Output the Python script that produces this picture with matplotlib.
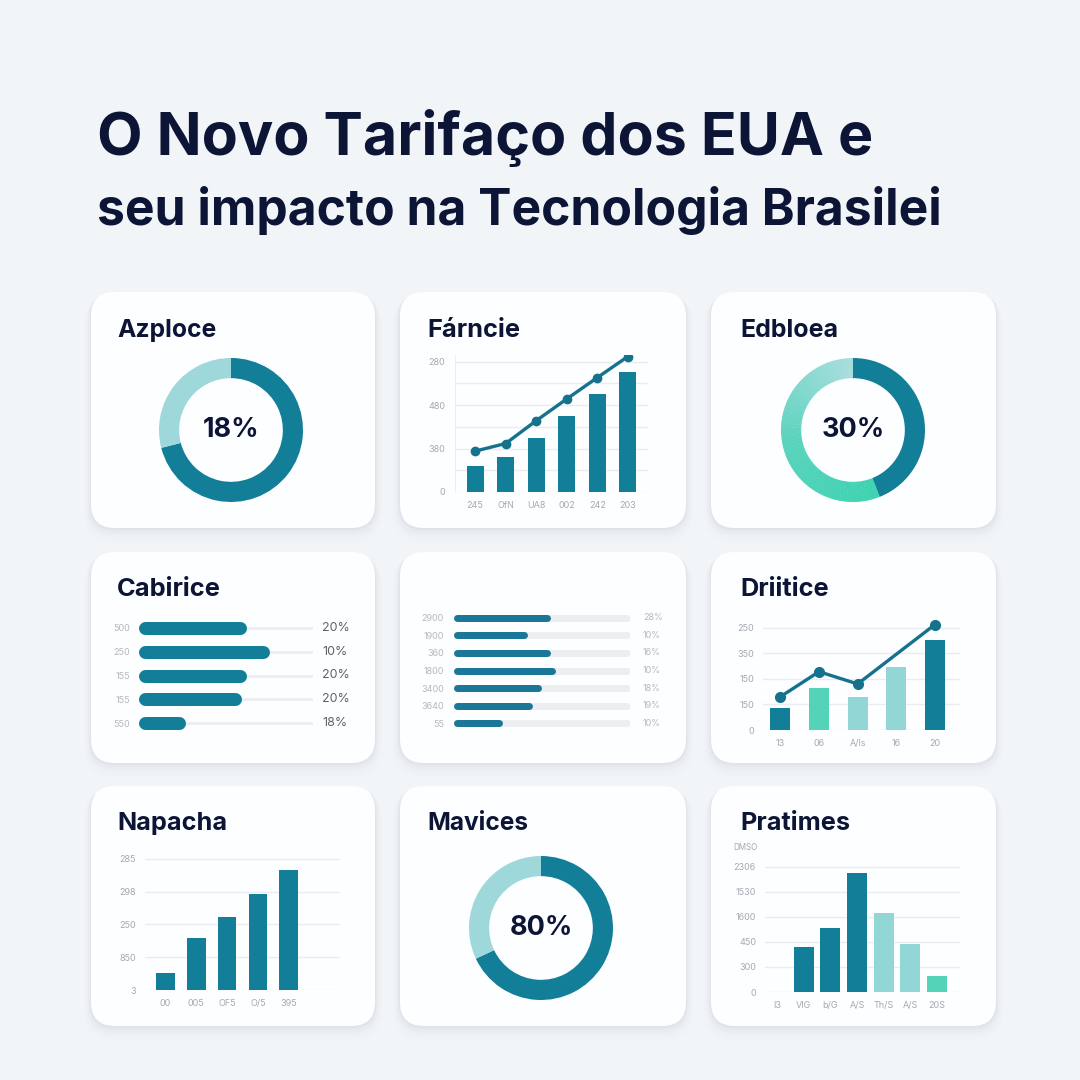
import numpy as np
import matplotlib
matplotlib.use("Agg")
import matplotlib.pyplot as plt
import matplotlib.colors as mcolors
from matplotlib.patches import FancyBboxPatch, Wedge

plt.rcParams["font.family"] = ["Inter", "DejaVu Sans"]

# ---------------------------------------------------------------- data
title_lines = ["O Novo Tarifaço dos EUA e", "seu impacto na Tecnologia Brasilei"]

azploce_title = "Azploce"
azploce_label = "18%"
azploce_parts = [71, 29]

farncie_title = "Fárncie"
farncie_cats = ["245", "OfN", "UA8", "002", "242", "203"]
farncie_bars = [120, 162, 249, 351, 452, 554]
farncie_line = [188, 223, 328, 428, 526, 623]
farncie_yticks = [0, 200, 400, 600]
farncie_ylabels = ["0", "380", "480", "280"]

edbloea_title = "Edbloea"
edbloea_label = "30%"
edbloea_parts = [44, 56]

cabirice_title = "Cabirice"
cabirice_left = ["500", "250", "155", "155", "550"]
cabirice_right = ["20%", "10%", "20%", "20%", "18%"]
cabirice_vals = [62, 75, 62, 59, 27]

mid_left = ["2900", "1900", "360", "1800", "3400", "3640", "55"]
mid_right = ["28%", "10%", "16%", "10%", "18%", "19%", "10%"]
mid_vals = [55, 42, 55, 58, 50, 45, 28]

driitice_title = "Driitice"
driitice_cats = ["13", "06", "A/ls", "16", "20"]
driitice_bars = [43, 82, 65, 124, 176]
driitice_line_idx = [0, 1, 2, 4]
driitice_line = [65, 114, 90, 206]
driitice_yticks = [0, 50, 100, 150, 200]
driitice_ylabels = ["0", "150", "150", "350", "250"]

napacha_title = "Napacha"
napacha_cats = ["00", "005", "OF5", "O/5", "395"]
napacha_bars = [26, 79, 111, 147, 183]
napacha_yticks = [0, 50, 100, 150, 200]
napacha_ylabels = ["3", "850", "250", "298", "285"]

mavices_title = "Mavices"
mavices_label = "80%"
mavices_parts = [68, 32]

pratimes_title = "Pratimes"
pratimes_cats = ["I3", "VIG", "b/G", "A/S", "Th/S", "A/S", "20S"]
pratimes_bars = [0, 90, 128, 238, 158, 96, 32]
pratimes_yticks = [0, 50, 100, 150, 200, 250]
pratimes_ylabels = ["0", "300", "450", "1600", "1530", "2306"]
pratimes_unit = "DMSO"

# ---------------------------------------------------------------- style
BG = "#f2f5f8"
NAVY = "#0c1535"
DARK = "#127e98"
LIGHT = "#9ed8db"
MINT = "#55d3b8"
PALE = "#93d6d6"
GRID = "#e9ecf0"
TICK = "#a3aab3"

W = H = 1080
fig = plt.figure(figsize=(10.8, 10.8), dpi=100)
fig.patch.set_facecolor(BG)
PT = 72 / 100  # points per pixel
renderer = fig.canvas.get_renderer()


def box(x, y, w, h):
    # pixel box (top-left origin) -> figure fraction
    return [x / W, 1 - (y + h) / H, w / W, h / H]


def card(x0, y0, x1, y1):
    r = 24
    for k, a in [(14, 0.02), (10, 0.025), (7, 0.035), (4, 0.045), (2, 0.055)]:
        sh = FancyBboxPatch((x0 / W - k / W * 0.5, 1 - (y1 + k) / H),
                            (x1 - x0 + k) / W, (y1 - y0 + k * 0.8) / H,
                            boxstyle="round,pad=0,rounding_size=%f" % ((r + k * 0.5) / W),
                            transform=fig.transFigure, fc="#8d9bb0", ec="none",
                            alpha=a, zorder=-3)
        fig.patches.append(sh)
    p = FancyBboxPatch((x0 / W, 1 - y1 / H), (x1 - x0) / W, (y1 - y0) / H,
                       boxstyle="round,pad=0,rounding_size=%f" % (r / W),
                       transform=fig.transFigure, fc="#fdfeff", ec="none", zorder=-2)
    fig.patches.append(p)


def fit_text(x, y, s, width, size, **kw):
    # place text, then rescale font so it spans the reference width
    t = fig.text(x / W, 1 - y / H, s, fontsize=size * PT, va="baseline", ha="left", **kw)
    w = t.get_window_extent(renderer).width
    t.set_fontsize(size * PT * width / w)
    return t


def card_title(x, y, s, width):
    fit_text(x, y, s, width, 22, fontweight="bold", color=NAVY)


cols = [(91, 375), (400, 686), (711, 996)]
rows = [(292, 528), (552, 763), (786, 1026)]
for (ya, yb) in rows:
    for (xa, xb) in cols:
        card(xa, ya, xb, yb)

# title
fit_text(97, 155, title_lines[0], 776, 60, fontweight="bold", color=NAVY)
fit_text(97, 225, title_lines[1], 845, 60, fontweight="bold", color=NAVY)


def donut(cx, cy, R, parts, label, gradient=False):
    ax = fig.add_axes(box(cx - R, cy - R, 2 * R, 2 * R))
    ax.set_axis_off()
    wedges, _ = ax.pie(parts, colors=[DARK, LIGHT], startangle=90, counterclock=False,
                       radius=1, wedgeprops=dict(width=0.28, linewidth=0))
    if gradient:
        w = wedges[1]
        t1, t2 = w.theta1, w.theta2
        n = 60
        cmap = mcolors.LinearSegmentedColormap.from_list("g", ["#a9dddd", "#5ad3bd", "#3fd3b2"])
        edges = np.linspace(t1, t2, n + 1)
        for i in range(n):
            ax.add_patch(Wedge((0, 0), 1, edges[i], edges[i + 1] + 0.4, width=0.28,
                               fc=cmap(i / (n - 1)), ec="none"))
        w.set_visible(False)
    ax.set_xlim(-1, 1)
    ax.set_ylim(-1, 1)
    ax.set_aspect("equal")
    ax.text(0, 0, label, ha="center", va="center", fontsize=27 * PT,
            fontweight="bold", color=NAVY)


def style_axes(ax, yticks, ylabels, cats, xpad=9, ypad=10):
    for s in ax.spines.values():
        s.set_visible(False)
    ax.set_yticks(yticks)
    ax.set_yticklabels(ylabels)
    ax.set_xticks(range(len(cats)))
    ax.set_xticklabels(cats)
    ax.tick_params(length=0, labelsize=9 * PT, labelcolor=TICK, pad=ypad * PT)
    ax.tick_params(axis="x", pad=xpad * PT)
    ax.set_facecolor("none")
    ax.set_axisbelow(True)


# ---- Azploce
card_title(117, 337, azploce_title, 99)
donut(231, 430, 72, azploce_parts, azploce_label)

# ---- Fárncie
card_title(427, 337, farncie_title, 93)
ax = fig.add_axes(box(455, 355, 193, 137))
x = np.arange(len(farncie_cats))
ax.bar(x, farncie_bars, width=0.56, color=DARK, zorder=2)
ax.plot(x, farncie_line, color="#15728c", lw=2.4, marker="o", ms=6, zorder=3)
for g in range(0, 700, 100):
    ax.axhline(g, color=GRID, lw=1, zorder=0)
ax.axvline(-0.66, color=GRID, lw=1.2, zorder=0)
ax.set_xlim(-0.66, 5.66)
ax.set_ylim(0, 630)
style_axes(ax, farncie_yticks, farncie_ylabels, farncie_cats)

# ---- Edbloea
card_title(740, 337, edbloea_title, 98)
donut(853, 430, 72, edbloea_parts, edbloea_label, gradient=True)

# ---- Cabirice (horizontal progress bars)
card_title(117, 596, cabirice_title, 104)
ax = fig.add_axes(box(138, 616, 175, 119))
cap = 6.5 / 175 * 100
for i, v in enumerate(cabirice_vals):
    ax.plot([1, 100], [i, i], color="#eceef1", lw=3 * PT, solid_capstyle="round", zorder=1)
    ax.plot([cap, v - cap], [i, i], color=DARK, lw=13 * PT, solid_capstyle="round", zorder=2)
    ax.text(1 + 9 / 175, i, cabirice_right[i], transform=ax.get_yaxis_transform(),
            ha="left", va="center", fontsize=12.5 * PT, color="#5d636b")
ax.set_xlim(0, 100)
ax.set_ylim(4.5, -0.5)
ax.set_xticks([])
ax.set_yticks(range(len(cabirice_left)))
ax.set_yticklabels(cabirice_left)
ax.tick_params(length=0, labelsize=9 * PT, labelcolor="#b3b9c0", pad=8 * PT)
for s in ax.spines.values():
    s.set_visible(False)
ax.set_facecolor("none")

# ---- middle card (no title)
ax = fig.add_axes(box(453, 609, 177, 123))
cap = 3.5 / 177 * 100
for i, v in enumerate(mid_vals):
    ax.plot([cap, 100 - cap], [i, i], color="#eceef1", lw=7 * PT, solid_capstyle="round", zorder=1)
    ax.plot([cap, v - cap], [i, i], color="#1a7798", lw=7 * PT, solid_capstyle="round", zorder=2)
    ax.text(1 + 13 / 177, i, mid_right[i], transform=ax.get_yaxis_transform(),
            ha="left", va="center", fontsize=9 * PT, color="#b3b9c0")
ax.set_xlim(0, 100)
ax.set_ylim(6.5, -0.5)
ax.set_xticks([])
ax.set_yticks(range(len(mid_left)))
ax.set_yticklabels(mid_left)
ax.tick_params(length=0, labelsize=9 * PT, labelcolor="#b3b9c0", pad=9 * PT)
for s in ax.spines.values():
    s.set_visible(False)
ax.set_facecolor("none")

# ---- Driitice
card_title(740, 596, driitice_title, 89)
ax = fig.add_axes(box(763, 620, 197, 110))
x = np.arange(len(driitice_cats))
ax.bar(x, driitice_bars, width=0.52, color=[DARK, MINT, PALE, PALE, DARK], zorder=2)
ax.plot(driitice_line_idx, driitice_line, color="#15728c", lw=2.4, marker="o", ms=7, zorder=3)
for g in driitice_yticks:
    ax.axhline(g, color=GRID, lw=1, zorder=0)
ax.set_xlim(-0.45, 4.65)
ax.set_ylim(0, 215)
style_axes(ax, driitice_yticks, driitice_ylabels, driitice_cats, ypad=9)

# ---- Napacha
card_title(117, 830, napacha_title, 110)
ax = fig.add_axes(box(145, 857, 195, 133))
x = np.arange(len(napacha_cats))
ax.bar(x, napacha_bars, width=0.61, color=DARK, zorder=2)
for g in napacha_yticks:
    ax.axhline(g, color=GRID, lw=1, zorder=0)
ax.set_xlim(-0.65, 5.65)
ax.set_ylim(0, 203)
style_axes(ax, napacha_yticks, napacha_ylabels, napacha_cats, ypad=9)

# ---- Mavices
card_title(427, 830, mavices_title, 101)
donut(541, 928, 72, mavices_parts, mavices_label)

# ---- Pratimes
card_title(740, 830, pratimes_title, 110)
ax = fig.add_axes(box(765, 864, 195, 128))
x = np.arange(len(pratimes_cats))
ax.bar(x, pratimes_bars, width=0.75,
       color=[DARK, DARK, DARK, DARK, PALE, PALE, MINT], zorder=2)
for g in pratimes_yticks:
    ax.axhline(g, color=GRID, lw=1, zorder=0)
ax.set_xlim(-0.46, 6.87)
ax.set_ylim(0, 255)
style_axes(ax, pratimes_yticks, pratimes_ylabels, pratimes_cats, ypad=9)
ax.text(-0.04, 1 + 17 / 128, pratimes_unit, transform=ax.transAxes, ha="right",
        va="center", fontsize=8 * PT, color=TICK)

fig.savefig("out.png", dpi=100, facecolor=BG)
